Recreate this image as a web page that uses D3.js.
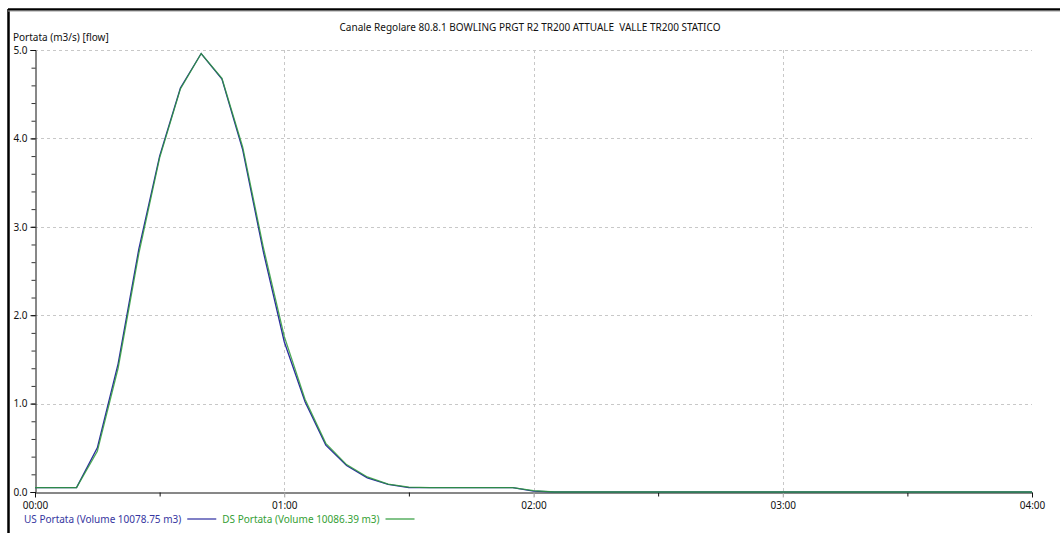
<!DOCTYPE html>
<html>
<head>
<meta charset="utf-8">
<script src="https://cdn.jsdelivr.net/npm/d3@7"></script>
<style>
  html, body { margin: 0; padding: 0; background: #fff; }
  svg { display: block; font-family: "Noto Sans", "Open Sans", sans-serif; }
</style>
</head>
<body>
<svg id="chart" width="1060" height="533"></svg>
<script>
// Time in minutes from start (5-minute steps)
const minutes = [0,5,10,15,20,25,30,35,40,45,50,55,60,65,70,75,80,85,90,95,100,105,110,115,120,125,130,240];
// Upstream flow (m3/s)
const usFlow = [0.05,0.05,0.05,0.50,1.45,2.75,3.80,4.57,4.96,4.67,3.87,2.71,1.70,1.02,0.53,0.30,0.16,0.085,0.05,0.05,0.05,0.05,0.05,0.05,0.01,0.0,0.0,0.0];
// Downstream flow (m3/s)
const dsFlow = [0.05,0.05,0.05,0.46,1.40,2.70,3.78,4.56,4.96,4.68,3.90,2.76,1.76,1.05,0.55,0.31,0.17,0.09,0.055,0.05,0.05,0.05,0.05,0.05,0.015,0.0,0.0,0.0];
const yMajor = [0,1,2,3,4,5];
const xMajor = [0,60,120,180,240];
const xLabels = ["00:00","01:00","02:00","03:00","04:00"];
const titleText = "Canale Regolare 80.8.1 BOWLING PRGT R2 TR200 ATTUALE  VALLE TR200 STATICO";
const yTitle = "Portata (m3/s) [flow]";
const legendItems = [
  {label: "US Portata (Volume 10078.75 m3)", color: "#2b2ba0", text: "#3636a0"},
  {label: "DS Portata (Volume 10086.39 m3)", color: "#2e9a3a", text: "#35a035"}
];

const svg = d3.select("#chart");
const plotLeft = 35, plotRight = 1032, plotTop = 50, plotBottom = 492;
const fs = 10;

const x = d3.scaleLinear().domain([0, 240]).range([plotLeft, plotRight]);
const y = d3.scaleLinear().domain([0, 5]).range([plotBottom, plotTop]);

// Outer frame (left and top edges)
svg.append("line").attr("x1", 8.5).attr("x2", 8.5).attr("y1", 9).attr("y2", 533)
  .attr("stroke", "#000").attr("stroke-width", 2.5);
svg.append("line").attr("x1", 8).attr("x2", 1060).attr("y1", 9.5).attr("y2", 9.5)
  .attr("stroke", "#000").attr("stroke-width", 2.5);
svg.append("line").attr("x1", 8).attr("x2", 1060).attr("y1", 11).attr("y2", 11)
  .attr("stroke", "#999").attr("stroke-width", 1);

// Title
svg.append("text").attr("x", 530).attr("y", 30.5).attr("text-anchor", "middle")
  .attr("font-size", fs).attr("fill", "#111").style("white-space", "pre")
  .text(titleText);

// Y axis title
svg.append("text").attr("x", 13).attr("y", 41).attr("font-size", fs).attr("fill", "#111")
  .text(yTitle);

// Grid lines
const grid = svg.append("g").attr("stroke", "#c8c8c8").attr("stroke-dasharray", "3,3").attr("stroke-width", 1);
grid.selectAll("line.h").data(yMajor.filter(d => d > 0)).join("line")
  .attr("x1", plotLeft).attr("x2", plotRight)
  .attr("y1", d => Math.round(y(d)) + 0.5).attr("y2", d => Math.round(y(d)) + 0.5);
grid.selectAll("line.v").data(xMajor.slice(1, -1)).join("line")
  .attr("y1", plotTop).attr("y2", plotBottom + 5)
  .attr("x1", d => Math.round(x(d)) + 0.5).attr("x2", d => Math.round(x(d)) + 0.5);

// Y axis: minor ticks then major ticks with labels
const yMinor = d3.range(0, 5.01, 0.2).map(d => +d.toFixed(1));
svg.append("g").attr("transform", `translate(${plotLeft + 0.5},0)`)
  .call(d3.axisLeft(y).tickValues(yMinor).tickSize(4).tickSizeOuter(0).tickFormat(""))
  .call(g => g.select(".domain").remove())
  .call(g => g.selectAll("line").attr("stroke", "#333"));
svg.append("g").attr("transform", `translate(${plotLeft + 0.5},0)`)
  .call(d3.axisLeft(y).tickValues(yMajor).tickSize(5).tickSizeOuter(5).tickPadding(3).tickFormat(d3.format(".1f")))
  .call(g => g.selectAll("text").attr("font-size", fs).attr("fill", "#111").attr("font-family", "Noto Sans, sans-serif"))
  .call(g => g.selectAll("line, .domain").attr("stroke", "#111"));

// X axis: minor (half-hour) ticks then hour ticks with labels
svg.append("g").attr("transform", `translate(0,${plotBottom + 0.5})`)
  .call(d3.axisBottom(x).tickValues([30,90,150,210]).tickSize(4).tickSizeOuter(0).tickFormat(""))
  .call(g => g.select(".domain").remove())
  .call(g => g.selectAll("line").attr("stroke", "#111"));
svg.append("g").attr("transform", `translate(0,${plotBottom + 0.5})`)
  .call(d3.axisBottom(x).tickValues(xMajor).tickSize(5).tickSizeOuter(0).tickPadding(4.5)
    .tickFormat((d, i) => xLabels[i]))
  .call(g => g.selectAll("text").attr("font-size", fs).attr("fill", "#111").attr("font-family", "Noto Sans, sans-serif"))
  .call(g => g.selectAll(".domain").attr("stroke", "#111"))
  .call(g => g.selectAll(".tick line").attr("stroke", (d) => (d === 0 || d === 240) ? "#111" : "#aaa"));

// Flow lines
const line = vals => d3.line().x((d, i) => x(minutes[i])).y(d => y(d))(vals);
svg.append("path").attr("d", line(usFlow)).attr("fill", "none")
  .attr("stroke", legendItems[0].color).attr("stroke-width", 1.3);
svg.append("path").attr("d", line(dsFlow)).attr("fill", "none")
  .attr("stroke", legendItems[1].color).attr("stroke-width", 1.3).attr("stroke-opacity", 0.85);

// Legend
let lx = 24;
const ly = 522.5;
legendItems.forEach(item => {
  const t = svg.append("text").attr("x", lx).attr("y", ly).attr("font-size", fs)
    .attr("fill", item.text).text(item.label);
  const w = t.node().getComputedTextLength();
  const sx = lx + w + 6;
  svg.append("line").attr("x1", sx).attr("x2", sx + 29).attr("y1", ly - 3.5).attr("y2", ly - 3.5)
    .attr("stroke", item.color).attr("stroke-width", 1.2);
  lx = sx + 35;
});
</script>
</body>
</html>
